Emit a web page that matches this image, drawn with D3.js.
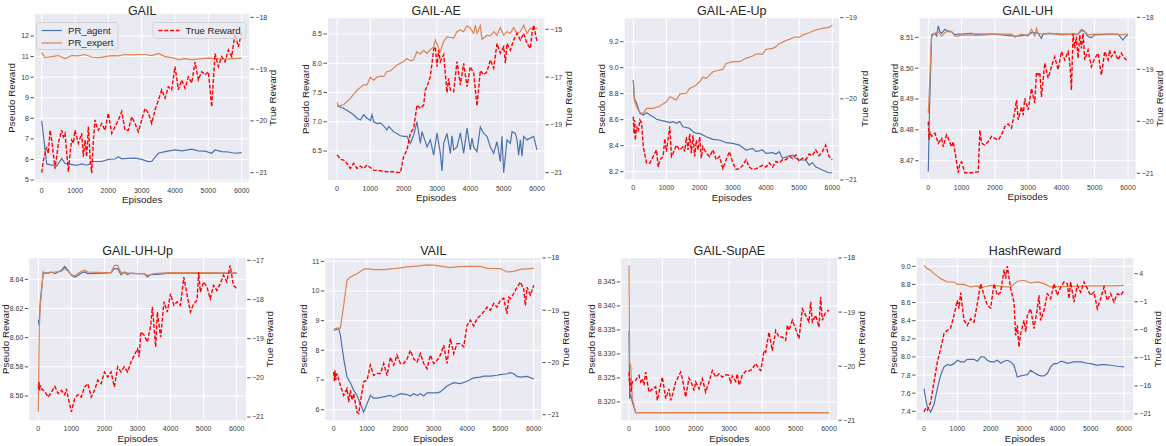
<!DOCTYPE html>
<html>
<head>
<meta charset="utf-8">
<script src="https://cdn.jsdelivr.net/npm/d3@7"></script>
<style>
  body { margin: 0; background: #fff; }
  svg { display: block; font-family: "Liberation Sans", Arial, sans-serif; }
</style>
</head>
<body>
<svg id="chart" width="1166" height="446"></svg>
<script>
// ---- data: [episode, value] ----
const episodeTicks = [0, 1000, 2000, 3000, 4000, 5000, 6000];

const gailAgent = [[0,7.88],[150,5.78],[300,5.72],[400,5.72],[450,5.67],[600,6.05],[700,5.8],[800,5.78],[1000,5.72],[1100,5.73],[1200,5.78],[1300,5.73],[1400,5.75],[1500,5.9],[1600,5.9],[1800,5.9],[2000,6.0],[2200,6.02],[2300,6.13],[2400,6.03],[2600,6.05],[2800,6.06],[3000,6.0],[3200,5.89],[3300,5.9],[3500,6.3],[3700,6.38],[4000,6.46],[4200,6.42],[4500,6.5],[4700,6.42],[4900,6.4],[5100,6.3],[5200,6.46],[5400,6.38],[5600,6.36],[5800,6.3],[6000,6.33]];
const gailExpert = [[0,11.19],[100,10.95],[300,11.0],[500,11.05],[700,10.9],[900,11.05],[1100,11.03],[1300,11.1],[1500,10.98],[1700,10.95],[1900,11.0],[2100,11.05],[2300,11.03],[2500,11.1],[2700,11.08],[2900,11.1],[3100,11.1],[3300,11.05],[3500,11.15],[3700,11.0],[3900,10.95],[4100,10.85],[4300,10.9],[4500,10.85],[5000,10.92],[5500,10.88],[6000,10.92]];
const gailTrue = [[0,-21.0],[50,-20.76],[150,-20.5],[200,-20.63],[250,-20.18],[300,-20.37],[400,-20.92],[450,-20.69],[500,-20.43],[600,-20.18],[650,-20.31],[700,-20.24],[800,-20.98],[850,-20.63],[900,-20.37],[950,-20.43],[1000,-20.18],[1100,-20.43],[1200,-20.24],[1250,-20.69],[1300,-20.37],[1350,-20.69],[1400,-20.11],[1450,-20.69],[1500,-21.01],[1550,-20.37],[1600,-19.98],[1650,-20.11],[1700,-20.18],[1800,-20.05],[1900,-20.18],[2000,-19.85],[2100,-20.24],[2200,-20.11],[2300,-19.98],[2400,-19.82],[2500,-20.18],[2600,-20.18],[2700,-19.92],[2800,-20.05],[2900,-20.21],[3000,-19.98],[3100,-19.76],[3200,-19.85],[3300,-20.05],[3400,-19.79],[3500,-19.6],[3600,-19.4],[3700,-19.56],[3800,-19.34],[3900,-19.4],[4000,-18.95],[4100,-19.4],[4200,-19.21],[4300,-19.37],[4400,-19.15],[4500,-19.27],[4600,-18.86],[4700,-19.21],[4800,-19.05],[4900,-19.11],[5000,-19.05],[5100,-19.73],[5200,-18.7],[5300,-18.95],[5400,-18.76],[5500,-18.86],[5600,-18.63],[5700,-18.76],[5800,-18.31],[5900,-18.57],[6000,-18.28]];

const aeAgent = [[0,7.27],[200,7.23],[400,7.16],[500,7.12],[600,7.06],[700,7.03],[800,7.12],[900,7.06],[1000,7.02],[1050,7.12],[1100,7.0],[1200,6.97],[1300,6.98],[1400,6.93],[1500,6.86],[1550,6.92],[1700,6.83],[1800,6.8],[1900,6.76],[2000,6.75],[2100,6.75],[2200,6.63],[2300,6.77],[2400,7.0],[2500,6.63],[2550,6.83],[2650,6.66],[2700,6.57],[2800,6.69],[2900,6.43],[3000,6.81],[3100,6.46],[3150,6.16],[3200,6.63],[3300,6.8],[3400,6.46],[3450,6.76],[3500,6.52],[3600,6.57],[3700,6.81],[3800,6.46],[3900,6.89],[4000,6.52],[4050,6.72],[4100,6.57],[4200,6.49],[4300,6.91],[4400,6.8],[4500,6.75],[4600,6.57],[4700,6.46],[4800,6.66],[4900,6.32],[4950,6.75],[5000,6.13],[5100,6.69],[5200,6.63],[5250,6.83],[5350,6.8],[5400,6.69],[5450,6.43],[5500,6.69],[5550,6.41],[5600,6.75],[5700,6.69],[5800,6.72],[5900,6.75],[6000,6.52]];
const aeExpert = [[0,7.33],[50,7.27],[200,7.29],[400,7.4],[600,7.54],[800,7.63],[900,7.63],[1000,7.76],[1100,7.71],[1200,7.76],[1300,7.78],[1400,7.77],[1500,7.86],[1600,7.87],[1800,7.97],[2000,8.03],[2100,8.08],[2200,8.04],[2300,8.06],[2400,8.2],[2500,8.16],[2600,8.22],[2700,8.17],[2800,8.23],[2900,8.28],[2950,8.4],[3050,8.26],[3100,8.2],[3200,8.37],[3300,8.45],[3400,8.44],[3500,8.43],[3600,8.54],[3700,8.57],[3800,8.54],[3900,8.64],[4000,8.6],[4100,8.51],[4150,8.65],[4200,8.51],[4300,8.64],[4350,8.41],[4500,8.48],[4600,8.47],[4700,8.54],[4800,8.48],[4900,8.61],[5000,8.48],[5100,8.54],[5200,8.51],[5300,8.61],[5400,8.51],[5500,8.54],[5600,8.65],[5700,8.51],[5800,8.6],[5900,8.57],[6000,8.6]];
const aeTrue = [[0,-20.26],[50,-20.33],[100,-20.44],[200,-20.47],[300,-20.61],[400,-20.82],[500,-20.61],[600,-20.82],[700,-20.72],[800,-20.82],[900,-20.68],[1000,-20.78],[1100,-20.89],[1300,-20.92],[1500,-20.96],[1700,-20.96],[1900,-21.0],[2000,-20.33],[2100,-20.05],[2200,-19.35],[2300,-19.14],[2400,-18.17],[2500,-18.31],[2600,-18.17],[2650,-17.54],[2700,-17.4],[2800,-16.98],[2900,-15.84],[2950,-15.73],[3000,-16.56],[3050,-15.87],[3100,-16.35],[3200,-16.07],[3300,-17.65],[3350,-17.05],[3400,-17.54],[3500,-17.61],[3600,-16.35],[3700,-17.33],[3800,-16.42],[3900,-17.4],[4000,-16.56],[4100,-16.84],[4200,-18.21],[4300,-16.73],[4400,-16.91],[4500,-16.77],[4600,-16.28],[4700,-16.63],[4800,-15.59],[4900,-16.0],[5000,-15.73],[5050,-16.42],[5100,-15.59],[5200,-15.87],[5300,-15.45],[5400,-15.17],[5500,-15.45],[5600,-15.17],[5700,-15.59],[5800,-15.8],[5850,-15.17],[5900,-14.82],[6000,-15.52]];

const aeUpAgent = [[0,8.905],[30,8.764],[100,8.726],[200,8.649],[300,8.636],[400,8.654],[500,8.636],[600,8.623],[700,8.603],[800,8.597],[1000,8.585],[1100,8.577],[1200,8.585],[1300,8.572],[1400,8.585],[1500,8.546],[1700,8.533],[1800,8.508],[1900,8.495],[2000,8.495],[2200,8.469],[2400,8.449],[2600,8.444],[2800,8.423],[3000,8.418],[3200,8.405],[3400,8.367],[3600,8.379],[3700,8.354],[3900,8.367],[4000,8.341],[4200,8.346],[4300,8.336],[4400,8.354],[4500,8.303],[4700,8.321],[4800,8.328],[4900,8.303],[5000,8.29],[5200,8.29],[5300,8.251],[5400,8.269],[5500,8.238],[5700,8.213],[5900,8.192],[6000,8.192]];
const aeUpExpert = [[0,8.905],[30,8.751],[100,8.7],[200,8.654],[300,8.649],[400,8.687],[600,8.687],[800,8.705],[1000,8.738],[1100,8.777],[1200,8.764],[1300,8.751],[1400,8.797],[1600,8.803],[1700,8.841],[1900,8.867],[2000,8.892],[2100,8.926],[2200,8.918],[2400,8.969],[2600,8.982],[2700,8.987],[2800,9.033],[3000,9.046],[3200,9.046],[3300,9.059],[3400,9.072],[3600,9.09],[3700,9.105],[3900,9.105],[4000,9.141],[4200,9.149],[4300,9.162],[4400,9.187],[4600,9.208],[4700,9.218],[4900,9.238],[5000,9.233],[5100,9.251],[5300,9.269],[5500,9.29],[5700,9.303],[5900,9.31],[6000,9.328]];
const aeUpTrue = [[0,-20.22],[20,-20.43],[40,-20.26],[60,-20.51],[100,-20.34],[150,-20.4],[200,-20.26],[250,-20.3],[300,-20.59],[400,-20.79],[500,-20.79],[600,-20.71],[700,-20.63],[750,-20.84],[800,-20.75],[900,-20.71],[950,-20.49],[1000,-20.65],[1100,-20.34],[1150,-20.71],[1200,-20.67],[1300,-20.57],[1400,-20.63],[1500,-20.59],[1550,-20.65],[1600,-20.47],[1650,-20.63],[1700,-20.43],[1750,-20.67],[1800,-20.45],[1850,-20.71],[1900,-20.51],[1950,-20.63],[2000,-20.47],[2050,-20.73],[2100,-20.59],[2200,-20.67],[2300,-20.71],[2400,-20.63],[2500,-20.75],[2600,-20.71],[2700,-20.86],[2800,-20.75],[2900,-20.65],[3000,-20.79],[3100,-20.87],[3200,-20.86],[3300,-20.82],[3400,-20.75],[3500,-20.84],[3600,-20.87],[3700,-20.86],[3800,-20.84],[3900,-20.82],[4000,-20.84],[4100,-20.79],[4200,-20.84],[4300,-20.77],[4400,-20.79],[4500,-20.75],[4600,-20.75],[4700,-20.71],[4800,-20.73],[4900,-20.69],[5000,-20.77],[5100,-20.73],[5200,-20.75],[5300,-20.68],[5400,-20.7],[5500,-20.63],[5600,-20.7],[5700,-20.65],[5800,-20.57],[5900,-20.71],[6000,-20.75]];

const uhAgent = [[0,8.4664],[30,8.4843],[100,8.5108],[200,8.5113],[250,8.5104],[300,8.5137],[350,8.5118],[400,8.5113],[500,8.5126],[600,8.5118],[700,8.5118],[800,8.5108],[900,8.511],[1000,8.511],[1300,8.5113],[1400,8.511],[2000,8.511],[2600,8.5104],[2700,8.5104],[3000,8.5108],[3100,8.5115],[3200,8.5115],[3300,8.5113],[3350,8.5104],[3400,8.5097],[3450,8.511],[3600,8.5113],[4000,8.511],[4500,8.511],[4600,8.5122],[4700,8.5118],[4800,8.5102],[4900,8.5099],[5000,8.5108],[5500,8.511],[5700,8.511],[5800,8.5097],[5850,8.5091],[5900,8.51],[6000,8.5108]];
const uhExpert = [[0,8.4854],[100,8.5102],[200,8.5113],[300,8.5118],[400,8.5104],[500,8.5115],[600,8.5122],[700,8.5118],[800,8.5104],[900,8.5104],[1000,8.5108],[1500,8.5106],[2000,8.511],[2500,8.511],[2600,8.51],[2800,8.511],[3000,8.5104],[3100,8.5126],[3200,8.5104],[3250,8.5129],[3300,8.5113],[3400,8.511],[3700,8.5113],[4000,8.5108],[4500,8.511],[4600,8.5126],[4650,8.5124],[4800,8.5108],[5000,8.511],[5500,8.511],[5800,8.5108],[6000,8.511]];
const uhTrue = [[0,-20.01],[20,-20.36],[50,-20.2],[100,-20.29],[200,-20.23],[300,-20.42],[400,-20.33],[450,-20.49],[500,-20.36],[550,-20.26],[600,-20.33],[700,-20.49],[750,-20.39],[800,-20.58],[900,-20.99],[950,-20.81],[1000,-20.78],[1100,-20.99],[1300,-20.99],[1500,-20.97],[1550,-20.17],[1600,-20.42],[1700,-20.46],[1800,-20.39],[1900,-20.29],[2000,-20.33],[2100,-20.36],[2200,-20.26],[2300,-20.1],[2400,-20.05],[2500,-20.13],[2600,-19.81],[2650,-19.59],[2700,-19.97],[2800,-19.72],[2850,-19.88],[2900,-19.56],[3000,-19.78],[3100,-19.37],[3200,-19.65],[3250,-19.06],[3300,-19.11],[3350,-19.06],[3400,-19.53],[3500,-18.88],[3600,-19.17],[3700,-18.95],[3800,-18.76],[3900,-19.01],[4000,-18.66],[4100,-18.82],[4200,-18.66],[4250,-18.85],[4300,-19.4],[4350,-18.31],[4400,-18.6],[4450,-18.37],[4500,-18.79],[4550,-18.34],[4600,-18.6],[4650,-18.31],[4700,-18.82],[4800,-18.63],[4900,-18.95],[5000,-18.79],[5100,-18.69],[5200,-19.11],[5300,-18.66],[5400,-18.82],[5450,-18.63],[5500,-18.76],[5600,-18.66],[5700,-18.82],[5800,-18.69],[5900,-18.79],[6000,-18.85]];

const uhUpAgent = [[0,8.6119],[20,8.6085],[60,8.6245],[150,8.645],[200,8.6439],[300,8.6446],[400,8.645],[500,8.6439],[600,8.645],[700,8.6462],[800,8.6489],[900,8.6462],[1000,8.6427],[1100,8.6416],[1200,8.6427],[1300,8.6443],[1400,8.645],[1500,8.6439],[2000,8.6443],[2200,8.6446],[2300,8.6473],[2400,8.6473],[2500,8.6432],[2600,8.6446],[2700,8.6432],[2800,8.6443],[3000,8.6439],[3200,8.6439],[3300,8.6416],[3400,8.6432],[3600,8.6434],[3800,8.6439],[4000,8.6443],[5000,8.6443],[6000,8.6443]];
const uhUpExpert = [[0,8.549],[30,8.6062],[60,8.6222],[150,8.6446],[300,8.6443],[500,8.645],[700,8.6455],[800,8.6473],[900,8.6455],[1000,8.6432],[1100,8.6423],[1200,8.6439],[1300,8.6455],[1400,8.6462],[1500,8.645],[2000,8.6446],[2200,8.6446],[2300,8.6496],[2400,8.6496],[2500,8.6446],[2600,8.645],[2800,8.6439],[3200,8.6439],[3300,8.6427],[3500,8.6439],[4000,8.6446],[5000,8.6446],[6000,8.6443]];
const uhUpTrue = [[0,-20.28],[20,-20.11],[40,-20.32],[60,-20.19],[100,-20.28],[200,-20.36],[300,-20.49],[400,-20.36],[500,-20.22],[600,-20.4],[700,-20.32],[800,-20.43],[850,-20.28],[900,-20.49],[1000,-20.87],[1100,-20.53],[1200,-20.43],[1300,-20.49],[1400,-20.23],[1500,-20.15],[1600,-20.49],[1700,-20.32],[1800,-20.06],[1900,-20.15],[2000,-19.85],[2100,-19.98],[2200,-19.85],[2300,-20.23],[2400,-19.72],[2500,-19.85],[2600,-19.72],[2700,-19.85],[2800,-19.6],[2900,-19.43],[3000,-19.26],[3050,-19.47],[3100,-18.83],[3200,-18.91],[3300,-19.09],[3400,-18.66],[3450,-18.19],[3550,-19.21],[3600,-18.32],[3700,-18.96],[3800,-18.06],[3900,-18.32],[4000,-17.85],[4100,-18.15],[4200,-18.06],[4300,-18.15],[4400,-17.43],[4500,-17.89],[4600,-18.32],[4700,-18.11],[4800,-18.02],[4850,-17.3],[4900,-17.81],[5000,-17.55],[5100,-17.68],[5200,-17.98],[5300,-17.64],[5400,-17.77],[5500,-17.6],[5600,-17.38],[5700,-17.55],[5800,-17.13],[5900,-17.64],[6000,-17.72]];

const vailAgent = [[0,8.67],[150,8.73],[200,8.51],[300,7.72],[400,7.1],[500,6.91],[600,6.65],[700,6.48],[800,6.2],[900,5.92],[1000,6.2],[1100,6.48],[1200,6.39],[1300,6.39],[1500,6.43],[1700,6.48],[1800,6.43],[2000,6.54],[2200,6.51],[2300,6.46],[2400,6.54],[2500,6.48],[2600,6.54],[2700,6.46],[2800,6.57],[3000,6.57],[3100,6.57],[3200,6.6],[3400,6.8],[3600,6.91],[3800,6.88],[4000,6.96],[4200,7.07],[4400,7.1],[4500,7.13],[4700,7.13],[4900,7.16],[5000,7.18],[5200,7.21],[5300,7.25],[5400,7.21],[5500,7.12],[5600,7.1],[5800,7.12],[6000,7.04]];
const vailExpert = [[0,8.71],[100,8.75],[200,8.75],[300,9.52],[400,10.36],[500,10.47],[700,10.58],[900,10.73],[1000,10.75],[1200,10.72],[1500,10.72],[1800,10.75],[2000,10.78],[2200,10.81],[2500,10.84],[2800,10.88],[3000,10.87],[3200,10.84],[3500,10.79],[3700,10.81],[4000,10.83],[4400,10.83],[4600,10.76],[5000,10.75],[5100,10.7],[5200,10.64],[5400,10.66],[5600,10.73],[6000,10.76]];
const vailTrue = [[0,-20.18],[20,-20.36],[40,-20.15],[60,-20.34],[100,-20.21],[200,-20.44],[300,-20.63],[400,-20.5],[450,-20.76],[500,-20.53],[550,-20.72],[600,-20.6],[700,-20.95],[750,-20.98],[800,-20.76],[900,-20.37],[1000,-20.34],[1100,-20.05],[1200,-20.25],[1300,-20.21],[1400,-20.21],[1500,-20.02],[1600,-20.25],[1700,-19.9],[1800,-20.05],[1900,-19.86],[2000,-20.02],[2100,-20.02],[2200,-19.93],[2300,-19.77],[2400,-19.93],[2500,-19.99],[2600,-19.83],[2700,-20.02],[2800,-20.12],[2900,-19.86],[3000,-20.02],[3100,-19.96],[3200,-19.86],[3300,-19.67],[3400,-20.02],[3500,-19.54],[3600,-19.83],[3700,-19.64],[3800,-19.64],[3900,-19.7],[4000,-19.29],[4100,-19.19],[4200,-19.3],[4300,-19.16],[4400,-19.1],[4500,-19.03],[4600,-18.94],[4700,-19.0],[4800,-18.87],[4900,-18.94],[5000,-18.81],[5100,-18.77],[5200,-19.07],[5250,-18.75],[5300,-18.78],[5400,-18.68],[5500,-18.56],[5600,-18.46],[5700,-18.59],[5750,-18.91],[5800,-18.56],[5900,-18.71],[6000,-18.52]];

const supAeAgent = [[0,8.3349],[20,8.3207],[50,8.3214],[100,8.32],[200,8.3178],[3000,8.3178],[6000,8.3178]];
const supAeExpert = [[0,8.3485],[20,8.3283],[50,8.3276],[100,8.3207],[200,8.3178],[3000,8.3178],[6000,8.3178]];
const supAeTrue = [[0,-20.11],[20,-20.35],[40,-20.23],[60,-20.48],[100,-20.29],[200,-20.26],[300,-20.17],[350,-20.29],[400,-20.23],[450,-20.35],[500,-20.11],[600,-20.48],[700,-20.42],[800,-20.38],[850,-20.63],[900,-20.48],[1000,-20.2],[1100,-20.6],[1200,-20.42],[1250,-20.63],[1300,-20.54],[1400,-20.29],[1500,-20.17],[1550,-20.11],[1600,-20.23],[1700,-20.57],[1800,-20.22],[1900,-20.35],[1950,-20.45],[2000,-20.29],[2100,-20.42],[2200,-20.23],[2300,-20.48],[2400,-20.29],[2500,-20.08],[2600,-20.2],[2700,-20.14],[2800,-20.2],[2900,-20.16],[3000,-20.17],[3050,-20.32],[3100,-20.18],[3200,-20.28],[3250,-20.14],[3300,-20.35],[3400,-20.17],[3500,-20.09],[3600,-20.09],[3700,-20.05],[3800,-19.95],[3900,-20.05],[3950,-20.08],[4000,-19.92],[4050,-19.71],[4100,-19.74],[4200,-19.37],[4300,-19.71],[4400,-19.34],[4500,-19.46],[4600,-19.46],[4700,-19.52],[4750,-19.24],[4800,-19.34],[4900,-19.15],[5000,-19.31],[5100,-19.49],[5200,-18.94],[5300,-19.06],[5400,-19.18],[5450,-18.81],[5500,-19.18],[5600,-19.06],[5700,-19.28],[5750,-18.72],[5800,-19.15],[5900,-19.0],[6000,-18.97]];

const hashAgent = [[0,7.651],[50,7.54],[100,7.449],[200,7.393],[300,7.474],[400,7.651],[500,7.798],[600,7.89],[700,7.915],[800,7.908],[900,7.926],[1000,7.963],[1100,7.945],[1200,7.945],[1300,7.974],[1500,7.974],[1600,7.952],[1700,8.0],[1800,8.0],[1900,7.963],[2000,7.945],[2100,7.945],[2200,7.963],[2300,7.93],[2400,7.952],[2500,7.963],[2600,7.945],[2700,7.908],[2800,7.779],[2900,7.79],[3000,7.798],[3100,7.805],[3200,7.853],[3300,7.827],[3400,7.805],[3500,7.79],[3600,7.79],[3700,7.816],[3800,7.89],[3900,7.926],[4000,7.926],[4100,7.952],[4200,7.945],[4300,7.93],[4500,7.945],[4700,7.945],[4900,7.93],[5000,7.926],[5200,7.908],[5300,7.915],[5400,7.915],[5600,7.908],[5800,7.897],[6000,7.89]];
const hashExpert = [[0,9.01],[100,8.974],[200,8.956],[300,8.919],[500,8.864],[700,8.827],[900,8.827],[1000,8.801],[1200,8.801],[1400,8.772],[1600,8.783],[1700,8.754],[1800,8.772],[2000,8.79],[2200,8.783],[2400,8.772],[2600,8.772],[2800,8.835],[3000,8.846],[3200,8.816],[3400,8.827],[3600,8.809],[3800,8.772],[4000,8.772],[4500,8.779],[5000,8.783],[5500,8.783],[6000,8.79]];
const hashTrue = [[0,-20.64],[20,-20.35],[50,-20.05],[100,-20.35],[200,-18.86],[300,-15.3],[400,-11.74],[500,-9.36],[600,-6.69],[700,-6.1],[800,-5.68],[900,-3.42],[1000,-0.75],[1050,-2.24],[1100,0.62],[1200,-4.31],[1300,-5.2],[1400,-4.02],[1500,-4.61],[1600,-1.34],[1700,2.22],[1800,0.16],[1900,-1.64],[2000,-2.12],[2100,2.22],[2200,0.16],[2300,0.73],[2400,4.71],[2450,3.11],[2500,5.37],[2600,1.33],[2700,-1.05],[2750,-6.99],[2800,-5.2],[2850,-9.06],[2900,-6.69],[3000,-4.31],[3050,-6.39],[3100,-3.42],[3200,-2.24],[3300,-5.8],[3400,-2.24],[3450,0.16],[3500,-4.31],[3600,-2.53],[3700,0.44],[3800,-0.45],[3900,2.22],[4000,0.14],[4100,1.62],[4200,2.52],[4300,2.22],[4350,-0.45],[4400,2.52],[4500,-1.05],[4600,1.92],[4700,0.73],[4800,2.52],[4900,1.33],[5000,0.14],[5100,0.73],[5200,-2.24],[5300,-0.45],[5400,1.62],[5500,-0.75],[5600,0.44],[5700,-1.05],[5800,0.44],[5900,0.14],[6000,1.03]];

// tick labels
const gailLeftTicks = [5, 6, 7, 8, 9, 10, 11, 12];
const gailRightTicks = [-18, -19, -20, -21];
const aeLeftTicks = [6.5, 7.0, 7.5, 8.0, 8.5];
const aeRightTicks = [-15, -17, -19, -21];
const aeUpLeftTicks = [8.2, 8.4, 8.6, 8.8, 9.0, 9.2];
const aeUpRightTicks = [-19, -20, -21];
const uhLeftTicks = [8.47, 8.48, 8.49, 8.50, 8.51];
const uhRightTicks = [-18, -19, -20, -21];
const uhUpLeftTicks = [8.56, 8.58, 8.60, 8.62, 8.64];
const uhUpRightTicks = [-17, -18, -19, -20, -21];
const vailLeftTicks = [6, 7, 8, 9, 10, 11];
const vailRightTicks = [-18, -19, -20, -21];
const supAeLeftTicks = [8.320, 8.325, 8.330, 8.335, 8.340, 8.345];
const supAeRightTicks = [-18, -19, -20, -21];
const hashLeftTicks = [7.4, 7.6, 7.8, 8.0, 8.2, 8.4, 8.6, 8.8, 9.0];
const hashRightTicks = [4, -1, -6, -11, -16, -21];

// ---- layout (pixels): box = [left, top, right, bottom]; *Px = pixel of first/last tick ----
const panels = [
  {title: "GAIL", agent: gailAgent, expert: gailExpert, truth: gailTrue, lt: gailLeftTicks, rt: gailRightTicks, fmt: "d",
   box: [35, 14, 249.3, 181.7], xPx: [41.7, 241.7], lPx: [180, 36], rPx: [17.3, 172.7], prX: 12, trX: 273, titleY: 10, legend: true},
  {title: "GAIL-AE", agent: aeAgent, expert: aeExpert, truth: aeTrue, lt: aeLeftTicks, rt: aeRightTicks, fmt: ".1f",
   box: [328, 18.3, 544.3, 180], xPx: [337, 537], lPx: [151, 34], rPx: [29.3, 172.7], prX: 305.3, trX: 568.7, titleY: 10},
  {title: "GAIL-AE-Up", agent: aeUpAgent, expert: aeUpExpert, truth: aeUpTrue, lt: aeUpLeftTicks, rt: aeUpRightTicks, fmt: ".1f",
   box: [624.7, 18.3, 839, 179.3], xPx: [633.3, 832.3], lPx: [171.7, 41.7], rPx: [17.7, 180], prX: 601.3, trX: 865, titleY: 10},
  {title: "GAIL-UH", agent: uhAgent, expert: uhExpert, truth: uhTrue, lt: uhLeftTicks, rt: uhRightTicks, fmt: ".2f",
   box: [919.7, 18.3, 1135.7, 179], xPx: [928.3, 1128], lPx: [160.7, 37.3], rPx: [17.3, 173.3], prX: 894.7, trX: 1160, titleY: 10},
  {title: "GAIL-UH-Up", agent: uhUpAgent, expert: uhUpExpert, truth: uhUpTrue, lt: uhUpLeftTicks, rt: uhUpRightTicks, fmt: ".2f",
   box: [29.3, 258, 246, 420.3], xPx: [38.3, 236.7], lPx: [396, 279.3], rPx: [260.3, 417], prX: 5.5, trX: 270, titleY: 250},
  {title: "VAIL", agent: vailAgent, expert: vailExpert, truth: vailTrue, lt: vailLeftTicks, rt: vailRightTicks, fmt: "d",
   box: [325.3, 258, 541.3, 420.3], xPx: [333.7, 533.7], lPx: [409.7, 261.3], rPx: [258, 414.7], prX: 303.7, trX: 566, titleY: 250},
  {title: "GAIL-SupAE", agent: supAeAgent, expert: supAeExpert, truth: supAeTrue, lt: supAeLeftTicks, rt: supAeRightTicks, fmt: ".3f",
   box: [621.3, 258, 837.3, 420.3], xPx: [629, 829], lPx: [402, 282], rPx: [258, 420.3], prX: 591.3, trX: 861.3, titleY: 250},
  {title: "HashReward", agent: hashAgent, expert: hashExpert, truth: hashTrue, lt: hashLeftTicks, rt: hashRightTicks, fmt: ".1f",
   box: [916.7, 258, 1133.3, 420.3], xPx: [924, 1124], lPx: [411.3, 266.3], rPx: [273.7, 414], prX: 893.3, trX: 1158, titleY: 250}
];

const BG = "#EAEAF2", TEXT = "#262626", TICK = "#3a3a3a";
const BLUE = "#4C72B0", ORANGE = "#DD8452", RED = "#ff0000";

const svg = d3.select("#chart");

panels.forEach((p, i) => {
  const [L, T, R, B] = p.box;
  const x = d3.scaleLinear().domain([episodeTicks[0], episodeTicks[episodeTicks.length - 1]]).range(p.xPx);
  const yL = d3.scaleLinear().domain([p.lt[0], p.lt[p.lt.length - 1]]).range(p.lPx);
  const yR = d3.scaleLinear().domain([p.rt[0], p.rt[p.rt.length - 1]]).range(p.rPx);
  const fmtL = d3.format(p.fmt), fmtR = d3.format("d");

  const g = svg.append("g");

  g.append("clipPath").attr("id", "clip" + i)
    .append("rect").attr("x", L).attr("y", T).attr("width", R - L).attr("height", B - T);

  g.append("rect").attr("x", L).attr("y", T).attr("width", R - L).attr("height", B - T).attr("fill", BG);

  // grid
  g.selectAll(".gx").data(episodeTicks).join("line")
    .attr("x1", d => x(d)).attr("x2", d => x(d)).attr("y1", T).attr("y2", B)
    .attr("stroke", "#fff").attr("stroke-width", 1);
  g.selectAll(".gy").data(p.lt).join("line")
    .attr("x1", L).attr("x2", R).attr("y1", d => yL(d)).attr("y2", d => yL(d))
    .attr("stroke", "#fff").attr("stroke-width", 1);

  const plot = g.append("g").attr("clip-path", `url(#clip${i})`);
  const lineL = d3.line().x(d => x(d[0])).y(d => yL(d[1]));
  const lineR = d3.line().x(d => x(d[0])).y(d => yR(d[1]));

  plot.append("path").attr("d", lineL(p.agent)).attr("fill", "none")
    .attr("stroke", BLUE).attr("stroke-width", 1.2);
  plot.append("path").attr("d", lineL(p.expert)).attr("fill", "none")
    .attr("stroke", ORANGE).attr("stroke-width", 1.2);
  plot.append("path").attr("d", lineR(p.truth)).attr("fill", "none")
    .attr("stroke", RED).attr("stroke-width", 1.4).attr("stroke-dasharray", "4,1.8");

  // left ticks
  p.lt.forEach(v => {
    g.append("line").attr("x1", L - 4.5).attr("x2", L - 1.2).attr("y1", yL(v)).attr("y2", yL(v))
      .attr("stroke", TICK).attr("stroke-width", 0.9);
    g.append("text").attr("x", L - 6).attr("y", yL(v)).attr("dy", "0.35em")
      .attr("text-anchor", "end").attr("font-size", 7).attr("fill", TICK).text(fmtL(v));
  });
  // right ticks
  p.rt.forEach(v => {
    g.append("line").attr("x1", R + 1.2).attr("x2", R + 4.5).attr("y1", yR(v)).attr("y2", yR(v))
      .attr("stroke", TICK).attr("stroke-width", 0.9);
    g.append("text").attr("x", R + 6).attr("y", yR(v)).attr("dy", "0.35em")
      .attr("text-anchor", "start").attr("font-size", 7).attr("fill", TICK).text(fmtR(v));
  });
  // x ticks
  episodeTicks.forEach(v => {
    g.append("text").attr("x", x(v)).attr("y", B + 8.5).attr("dy", "0.35em")
      .attr("text-anchor", "middle").attr("font-size", 7).attr("fill", TICK).text(v);
  });

  // labels
  const cx = (L + R) / 2, cy = (T + B) / 2;
  g.append("text").attr("x", cx).attr("y", p.titleY).attr("dy", "0.36em")
    .attr("text-anchor", "middle").attr("font-size", 12.5).attr("fill", TEXT).text(p.title);
  g.append("text").attr("x", cx).attr("y", B + 18).attr("dy", "0.35em")
    .attr("text-anchor", "middle").attr("font-size", 9.8).attr("fill", TEXT).text("Episodes");
  g.append("text").attr("transform", `translate(${p.prX},${cy}) rotate(-90)`).attr("dy", "0.35em")
    .attr("text-anchor", "middle").attr("font-size", 9.8).attr("fill", TEXT).text("Pseudo Reward");
  g.append("text").attr("transform", `translate(${p.trX},${cy}) rotate(-90)`).attr("dy", "0.35em")
    .attr("text-anchor", "middle").attr("font-size", 9.8).attr("fill", TEXT).text("True Reward");

  if (p.legend) {
    const lg = g.append("g");
    lg.append("rect").attr("x", L + 1.5).attr("y", T + 8.5).attr("width", 81.5).attr("height", 27)
      .attr("rx", 2.5).attr("fill", BG).attr("fill-opacity", 0.8).attr("stroke", "#cccccc").attr("stroke-width", 0.8);
    [["PR_agent", BLUE], ["PR_expert", ORANGE]].forEach(([name, c], k) => {
      const yy = T + 16.5 + k * 12.5;
      lg.append("line").attr("x1", L + 6.5).attr("x2", L + 27).attr("y1", yy).attr("y2", yy)
        .attr("stroke", c).attr("stroke-width", 1.2);
      lg.append("text").attr("x", L + 33).attr("y", yy).attr("dy", "0.35em")
        .attr("font-size", 9.6).attr("fill", TEXT).text(name);
    });
    lg.append("rect").attr("x", 153).attr("y", T + 8.5).attr("width", 93).attr("height", 16)
      .attr("rx", 2.5).attr("fill", BG).attr("fill-opacity", 0.8).attr("stroke", "#cccccc").attr("stroke-width", 0.8);
    lg.append("line").attr("x1", 158.5).attr("x2", 179.5).attr("y1", T + 16.5).attr("y2", T + 16.5)
      .attr("stroke", RED).attr("stroke-width", 1.4).attr("stroke-dasharray", "4,1.8");
    lg.append("text").attr("x", 185.5).attr("y", T + 16.5).attr("dy", "0.35em")
      .attr("font-size", 9.6).attr("fill", TEXT).text("True Reward");
  }
});
</script>
</body>
</html>
